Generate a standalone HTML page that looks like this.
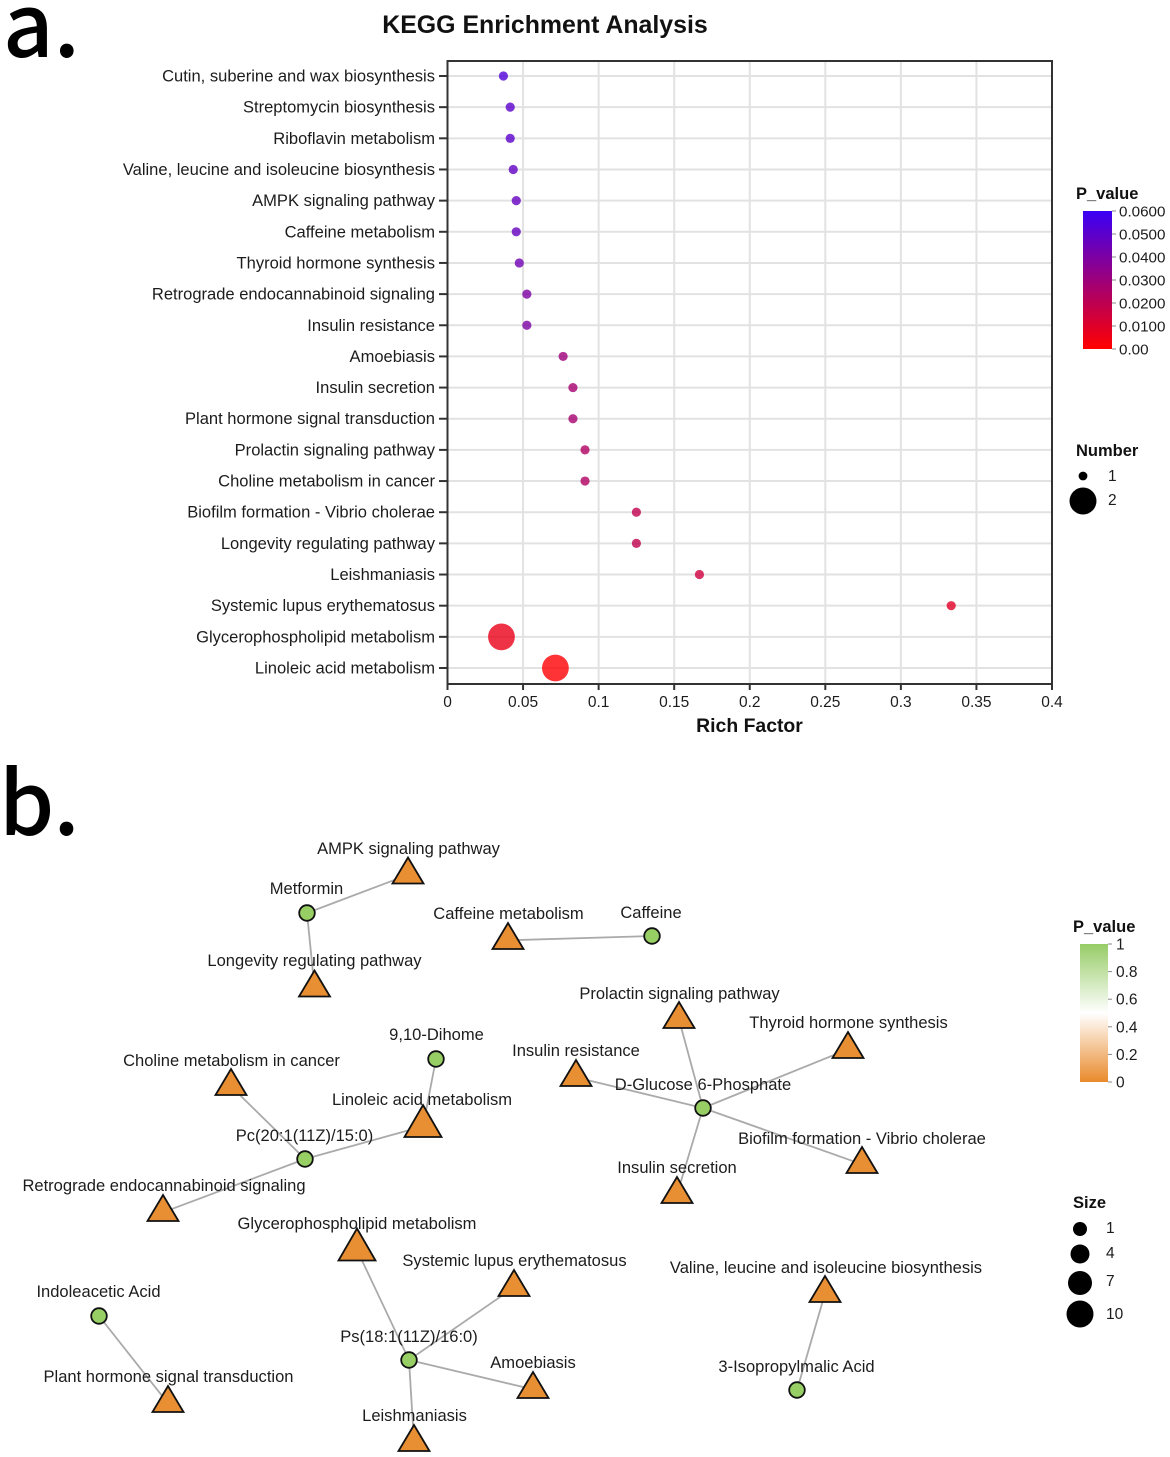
<!DOCTYPE html>
<html lang="en">
<head>
<meta charset="utf-8">
<title>KEGG Enrichment Analysis</title>
<style>
html,body{margin:0;padding:0;background:#fff;}
svg{display:block;font-family:"Liberation Sans",Arial,sans-serif;fill:#1c1c1c;}
</style>
</head>
<body>
<svg id="fig" xmlns="http://www.w3.org/2000/svg" width="1170" height="1457" viewBox="0 0 1170 1457">
  <defs>
    <linearGradient id="gradA" x1="0" y1="0" x2="0" y2="1">
      <stop offset="0" stop-color="#3a00f5"/>
      <stop offset="1" stop-color="#ff0000"/>
    </linearGradient>
    <linearGradient id="gradB" x1="0" y1="0" x2="0" y2="1">
      <stop offset="0" stop-color="#97cc67"/>
      <stop offset="0.5" stop-color="#ffffff"/>
      <stop offset="1" stop-color="#e98a2b"/>
    </linearGradient>
  </defs>

  <text x="3" y="57" font-family="'Noto Sans CJK JP',sans-serif" font-size="88" font-weight="500" fill="#000">a.</text>
  <text x="-1" y="835" font-family="'Noto Sans CJK JP',sans-serif" font-size="88" font-weight="500" fill="#000">b.</text>

  <text x="545" y="33" text-anchor="middle" font-size="24.9" font-weight="bold" fill="#111">KEGG Enrichment Analysis</text>
  <g id="gridA"></g>
  <rect x="447.5" y="61" width="604.5" height="623" fill="none" stroke="#333" stroke-width="2"/>
  <g id="axisA"></g>
  <g id="pointsA"></g>
  <text x="749.5" y="732" text-anchor="middle" font-size="19.4" font-weight="bold" fill="#111">Rich Factor</text>

  <g>
    <text x="1076" y="199" font-size="16.5" font-weight="bold" fill="#111">P_value</text>
    <rect x="1083" y="211" width="29" height="138" fill="url(#gradA)"/>
    <g id="legendATicks"></g>
  </g>
  <g>
    <text x="1076" y="456" font-size="16.5" font-weight="bold" fill="#111">Number</text>
    <circle cx="1083" cy="476" r="4.4" fill="#000"/>
    <circle cx="1083" cy="501" r="13.5" fill="#000"/>
    <text x="1108" y="481" font-size="15.5">1</text>
    <text x="1108" y="505" font-size="15.5">2</text>
  </g>

  <g id="edges"></g>
  <g id="nodes"></g>
  <g id="labels"></g>

  <g>
    <text x="1073" y="932" font-size="16.5" font-weight="bold" fill="#111">P_value</text>
    <rect x="1080" y="944" width="28" height="138" fill="url(#gradB)"/>
    <g id="legendBTicks"></g>
  </g>
  <g>
    <text x="1073" y="1208" font-size="16.5" font-weight="bold" fill="#111">Size</text>
    <circle cx="1080" cy="1229" r="7" fill="#000"/>
    <circle cx="1080" cy="1254" r="9.5" fill="#000"/>
    <circle cx="1080" cy="1283" r="12" fill="#000"/>
    <circle cx="1080" cy="1314" r="13.5" fill="#000"/>
    <text x="1106" y="1233" font-size="15.5">1</text>
    <text x="1106" y="1258" font-size="15.5">4</text>
    <text x="1106" y="1286" font-size="15.5">7</text>
    <text x="1106" y="1319" font-size="15.5">10</text>
  </g>
</svg>

<script>
// ---- Panel a: data ----
const categories = ["Cutin, suberine and wax biosynthesis","Streptomycin biosynthesis","Riboflavin metabolism","Valine, leucine and isoleucine biosynthesis","AMPK signaling pathway","Caffeine metabolism","Thyroid hormone synthesis","Retrograde endocannabinoid signaling","Insulin resistance","Amoebiasis","Insulin secretion","Plant hormone signal transduction","Prolactin signaling pathway","Choline metabolism in cancer","Biofilm formation - Vibrio cholerae","Longevity regulating pathway","Leishmaniasis","Systemic lupus erythematosus","Glycerophospholipid metabolism","Linoleic acid metabolism"];
const richFactor = [0.037,0.0415,0.0415,0.0435,0.0455,0.0455,0.0475,0.0525,0.0525,0.0765,0.083,0.083,0.091,0.091,0.125,0.125,0.1667,0.3333,0.0357,0.0714];
const pValues = [0.053,0.05,0.05,0.048,0.047,0.047,0.044,0.04,0.04,0.03,0.027,0.027,0.024,0.024,0.019,0.019,0.015,0.009,0.006,0.001];
const hitCounts = [1,1,1,1,1,1,1,1,1,1,1,1,1,1,1,1,1,1,2,2];
const xTicks = [0,0.05,0.1,0.15,0.2,0.25,0.3,0.35,0.4];
const xTickLabels = ["0","0.05","0.1","0.15","0.2","0.25","0.3","0.35","0.4"];
const pLegendLabels = ["0.0600","0.0500","0.0400","0.0300","0.0200","0.0100","0.00"];
const networkLegendLabels = ["1","0.8","0.6","0.4","0.2","0"];

// ---- Panel b: network graph ----
const metaboliteNames = ["Metformin","Caffeine","9,10-Dihome","D-Glucose 6-Phosphate","Pc(20:1(11Z)/15:0)","Ps(18:1(11Z)/16:0)","Indoleacetic Acid","3-Isopropylmalic Acid"];
const metaboliteLayout = [[307,913],[652,936],[436,1059],[703,1108],[305,1159],[409,1360],[99,1316],[797,1390]];
const metaboliteLabelAt = [[306.5,894],[651,918],[436.5,1040],[703,1090],[304.5,1141],[409,1342],[98.5,1297],[796.5,1372]];
const pathwayNames = ["AMPK signaling pathway","Longevity regulating pathway","Caffeine metabolism","Prolactin signaling pathway","Thyroid hormone synthesis","Insulin resistance","Choline metabolism in cancer","Linoleic acid metabolism","Biofilm formation - Vibrio cholerae","Insulin secretion","Retrograde endocannabinoid signaling","Glycerophospholipid metabolism","Systemic lupus erythematosus","Valine, leucine and isoleucine biosynthesis","Amoebiasis","Plant hormone signal transduction","Leishmaniasis"];
const pathwayLayout = [[408,870.5],[314.5,983.5],[508,936],[679,1015],[848,1045],[576,1073],[231,1082],[423,1121],[862,1160],[677,1190],[163,1208],[357,1244.5],[514,1283],[825,1289],[533,1385],[168,1399],[414,1438]];
const pathwaySizes = [1,1,1,1,1,1,1,2,1,1,1,2,1,1,1,1,1];
const pathwayLabelAt = [[408.5,854],[314.5,966],[508.5,919],[679.5,999],[848.5,1028],[576,1056],[231.5,1066],[422,1105],[862,1144],[677,1173],[164,1191],[357,1229],[514.5,1266],[826,1273],[533,1368],[168.5,1382],[414.5,1421]];
const edgeMetabolite = [0,0,1,2,3,3,3,3,3,4,4,4,5,5,5,5,6,7];
const edgePathway = [0,1,2,7,3,4,5,8,9,6,7,10,11,12,14,16,15,13];

// ---- Scales ----
const svgNS = "http://www.w3.org/2000/svg";
function xScale(v){ return 447.5 + v / 0.4 * 604.5; }
function yScale(i){ return 76 + i * (668 - 76) / 19; }
function rScale(n){ return n === 1 ? 4.6 : 13.4; }
function triHeight(size){ return size === 2 ? 32 : 26; }
function triHalf(size){ return size === 2 ? 18.5 : 15.5; }
function pColor(p){
  const t = p / 0.06;
  return "rgb(" + Math.round(255 + (58 - 255) * t) + ",0," + Math.round(245 * t) + ")";
}
function make(tag, attrs, parent, text){
  const el = document.createElementNS(svgNS, tag);
  for (const k in attrs) el.setAttribute(k, attrs[k]);
  if (text !== undefined) el.textContent = text;
  parent.appendChild(el);
  return el;
}

const gridA = document.getElementById("gridA");
const axisA = document.getElementById("axisA");
const pointsA = document.getElementById("pointsA");

categories.forEach(function(name, i){
  const y = yScale(i);
  const g = make("line", {x1:447.5, x2:1052, y1:y, y2:y, stroke:"#e2e2e2", "stroke-width":2}, gridA);
  
  
  const t = make("line", {x1:439, x2:447.5, y1:y, y2:y, stroke:"#333", "stroke-width":2}, axisA);
  
  
  const l = make("text", {x:435, y:y + 5.5, "text-anchor":"end", "font-size":16.55}, axisA, name);
  
  
});

xTicks.forEach(function(v, i){
  const x = xScale(v);
  if (i > 0) {
    const g = make("line", {x1:x, x2:x, y1:61, y2:684, stroke:"#e2e2e2", "stroke-width":2}, gridA);
    
    
  }
  const t = make("line", {x1:x, x2:x, y1:684, y2:690, stroke:"#333", "stroke-width":2}, axisA);
  
  
  const l = make("text", {x:x, y:707, "text-anchor":"middle", "font-size":15.5}, axisA, xTickLabels[i]);
  
  
});

categories.forEach(function(name, i){
  const c = make("circle", {cx:xScale(richFactor[i]), cy:yScale(i), r:rScale(hitCounts[i]), fill:pColor(pValues[i]), "fill-opacity":0.8}, pointsA);
  
  
});

// Legend ticks
const legendATicks = document.getElementById("legendATicks");
pLegendLabels.forEach(function(lab, i){
  const y = 211 + i * 138 / (pLegendLabels.length - 1);
  const t = make("line", {x1:1112, x2:1116, y1:y, y2:y, stroke:"#888", "stroke-width":1}, legendATicks);
  
  
  const l = make("text", {x:1119, y:y + 5.5, "font-size":15.2}, legendATicks, lab);
  
  
});
const legendBTicks = document.getElementById("legendBTicks");
networkLegendLabels.forEach(function(lab, i){
  const y = 944 + i * 138 / (networkLegendLabels.length - 1);
  const t = make("line", {x1:1108, x2:1112, y1:y, y2:y, stroke:"#888", "stroke-width":1}, legendBTicks);
  
  
  const l = make("text", {x:1116, y:y + 5.5, "font-size":15.5}, legendBTicks, lab);
  
  
});

// Network
const edgesG = document.getElementById("edges");
const nodesG = document.getElementById("nodes");
const labelsG = document.getElementById("labels");

edgeMetabolite.forEach(function(m, i){
  const a = metaboliteLayout[m];
  const j = edgePathway[i];
  const b = pathwayLayout[j];
  // edges aim at the triangle centroid, which sits below the bounding-box middle
  const e = make("line", {x1:a[0], y1:a[1], x2:b[0], y2:b[1] + triHeight(pathwaySizes[j]) / 6, stroke:"#aaaaaa", "stroke-width":1.8}, edgesG);
  
  
});

pathwayNames.forEach(function(name, i){
  const p = pathwayLayout[i];
  const half = triHalf(pathwaySizes[i]);
  const h = triHeight(pathwaySizes[i]);
  const pts = p[0] + "," + (p[1] - h / 2) + " " + (p[0] + half) + "," + (p[1] + h / 2) + " " + (p[0] - half) + "," + (p[1] + h / 2);
  const t = make("polygon", {points:pts, fill:"#e98f33", stroke:"#111", "stroke-width":1.8, "stroke-linejoin":"miter"}, nodesG);
  
  
  const at = pathwayLabelAt[i];
  const l = make("text", {x:at[0], y:at[1], "text-anchor":"middle", "font-size":16.55}, labelsG, name);
  
  
});

metaboliteNames.forEach(function(name, i){
  const p = metaboliteLayout[i];
  const c = make("circle", {cx:p[0], cy:p[1], r:7.8, fill:"#97cf65", stroke:"#111", "stroke-width":1.8}, nodesG);
  
  
  const at = metaboliteLabelAt[i];
  const l = make("text", {x:at[0], y:at[1], "text-anchor":"middle", "font-size":16.55}, labelsG, name);
  
  
});
</script>
</body>
</html>
